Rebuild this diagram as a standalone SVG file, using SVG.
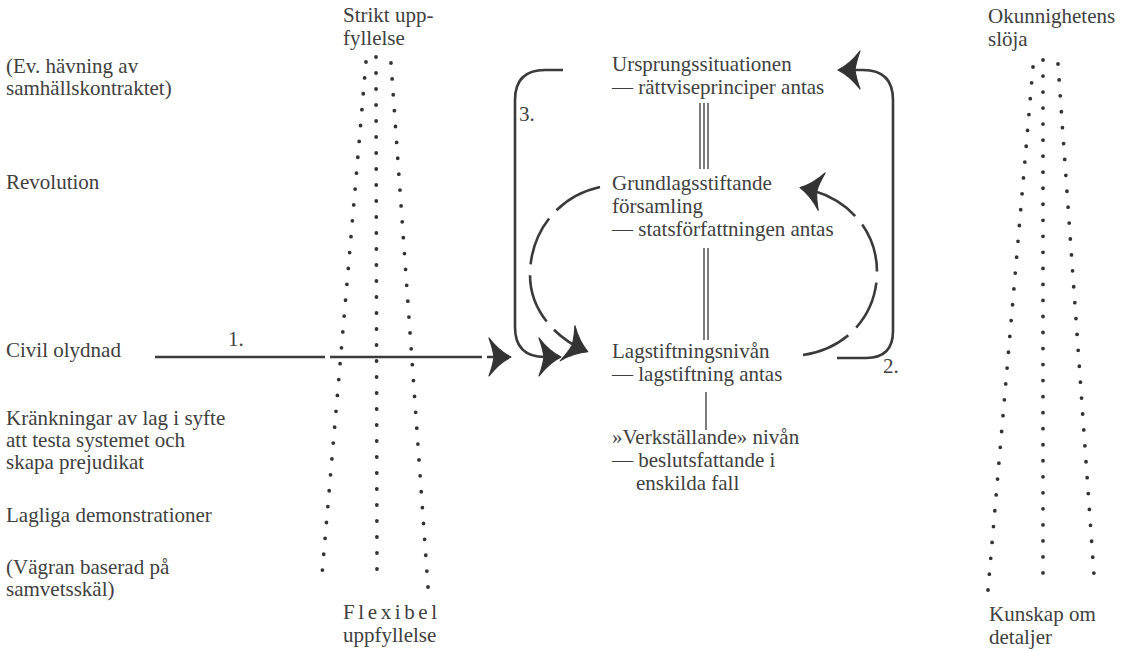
<svg xmlns="http://www.w3.org/2000/svg" width="1137" height="651" viewBox="0 0 1137 651" font-family="'Liberation Serif', 'DejaVu Serif', serif">
<style>
text{font-family:'Liberation Serif','DejaVu Serif',serif;font-size:21px;fill:#404040}
.dots{stroke:#333;stroke-width:3.8;stroke-linecap:round;stroke-dasharray:0 1;fill:none}
.arr{stroke:#3a3a3a;stroke-width:2.6;fill:none}
.dash{stroke:#3a3a3a;stroke-width:2.6;fill:none;stroke-dasharray:50 11}
.thin{stroke:#444;stroke-width:1.4;fill:none}
</style>
<defs>
<marker id="ah" markerUnits="userSpaceOnUse" markerWidth="44" markerHeight="44" viewBox="-30 -22 44 44" refX="0" refY="0" orient="auto" overflow="visible">
<path d="M2,0 Q-10,-6 -20,-19 Q-16,-8 -15,0 Q-16,8 -20,19 Q-10,6 2,0 Z" fill="#333" stroke="#333" stroke-width="1.2" stroke-linejoin="round"/>
</marker>
</defs>
<rect width="1137" height="651" fill="#fff"/>

<g id="fan-left">
<line class="dots" pathLength="33" x1="366" y1="62" x2="321" y2="586"/>
<line class="dots" pathLength="33" x1="376" y1="57" x2="377" y2="585"/>
<line class="dots" pathLength="33" x1="391" y1="63" x2="428" y2="587"/>
</g>
<g id="fan-right">
<line class="dots" pathLength="33" x1="1033" y1="67" x2="988" y2="590"/>
<line class="dots" pathLength="33" x1="1043" y1="60" x2="1043" y2="589"/>
<line class="dots" pathLength="33" x1="1058" y1="64" x2="1095" y2="589"/>
</g>

<g id="connectors">
<line class="thin" x1="700" y1="103" x2="700" y2="169"/>
<line class="thin" x1="704" y1="103" x2="704" y2="169"/>
<line class="thin" x1="708" y1="103" x2="708" y2="169"/>
<line class="thin" x1="704" y1="248" x2="704" y2="340"/>
<line class="thin" x1="708" y1="248" x2="708" y2="340"/>
<line class="thin" x1="706" y1="392" x2="706" y2="430"/>
<path class="arr" d="M155,357 H325 M330,357 H482 M487,357 H509" marker-end="url(#ah)"/>
<path class="arr" d="M563,70 H545 Q515,70 515,100 V327 Q515,357 545,357 H559" marker-end="url(#ah)"/>
<path class="arr" d="M837,358 H866 Q893,358 893,331 V100 Q893,70 863,70 H840" marker-end="url(#ah)"/>
<path class="dash" d="M600,187 C555,197 530,235 530,275 C530,310 555,338 586,351" marker-end="url(#ah)"/>
<path class="dash" d="M803,355 C850,348 877,312 877,272 C877,228 845,196 802,188" marker-end="url(#ah)"/>
<text x="228" y="346">1.</text>
<text x="883" y="373">2.</text>
<text x="519" y="121">3.</text>
</g>

<g id="strikt"><text x="343" y="22">Strikt upp-</text><text x="343" y="45">fyllelse</text></g>
<g id="flexibel"><text x="343" y="619" letter-spacing="3.6">Flexibel</text><text x="343" y="642">uppfyllelse</text></g>
<g id="okunnighet"><text x="988" y="23">Okunnighetens</text><text x="988" y="46">slöja</text></g>
<g id="kunskap"><text x="989" y="621">Kunskap om</text><text x="989" y="644">detaljer</text></g>

<g id="hävning"><text x="6" y="73">(Ev. hävning av</text><text x="6" y="95">samhällskontraktet)</text></g>
<g id="revolution"><text x="6" y="189">Revolution</text></g>
<g id="civil"><text x="6" y="357">Civil olydnad</text></g>
<g id="kränkningar"><text x="6" y="425">Kränkningar av lag i syfte</text><text x="6" y="447">att testa systemet och</text><text x="6" y="469">skapa prejudikat</text></g>
<g id="lagliga"><text x="6" y="522">Lagliga demonstrationer</text></g>
<g id="vägran"><text x="6" y="574">(Vägran baserad på</text><text x="6" y="596">samvetsskäl)</text></g>

<g id="ursprung"><text x="612" y="71">Ursprungssituationen</text><text x="612" y="94">— rättviseprinciper antas</text></g>
<g id="grundlag"><text x="612" y="190">Grundlagsstiftande</text><text x="612" y="213">församling</text><text x="612" y="236">— statsförfattningen antas</text></g>
<g id="lagstiftning"><text x="612" y="358">Lagstiftningsnivån</text><text x="612" y="381">— lagstiftning antas</text></g>
<g id="verkställande"><text x="612" y="444">»Verkställande» nivån</text><text x="612" y="467">— beslutsfattande i</text><text x="636" y="490">enskilda fall</text></g>
</svg>
